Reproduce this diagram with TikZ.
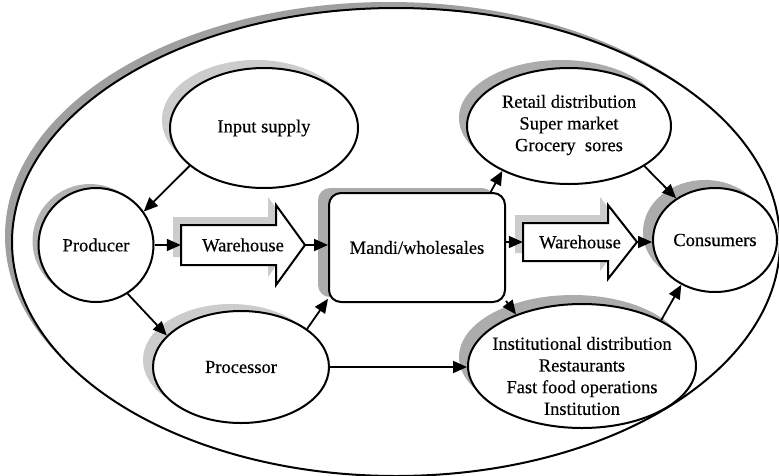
\documentclass[tikz,border=0pt]{standalone}
\usepackage{fontspec}
\setmainfont{Liberation Serif}[FakeBold=0.4]
\usetikzlibrary{arrows.meta,shapes.geometric,shadows,calc}
\begin{document}
\begin{tikzpicture}[x=1pt,y=-1pt,
  shp/.style={draw=black, line width=2pt, fill=white, inner sep=0pt},
  ell/.style={shp, ellipse},
  conn/.style={line width=1.8pt, -{Triangle[length=14pt,width=12pt]}},
  txt/.style={font=\fontsize{18.5}{21.7}\selectfont, align=center, inner sep=0pt},
  lsh/.style={general shadow={fill=gray!40, shadow xshift=-8pt, shadow yshift=8pt}},
  dsh/.style={general shadow={fill=gray!65, shadow xshift=-8pt, shadow yshift=8pt}},
  warrow/.style={draw=black, line width=2pt, fill=white, line join=miter},
  font=\fontsize{18.5}{21.7}\selectfont
]
\useasboundingbox (0,0) rectangle (779,475);
\fill[white] (0,0) rectangle (779,475);

% outer ellipse
\node[ell, minimum width=768pt, minimum height=468pt,
  general shadow={fill=gray!75, shadow xshift=-7pt, shadow yshift=6pt}] (outer) at (396,242) {};

% input supply
\node[ell, lsh, minimum width=188pt, minimum height=120pt] (inp) at (264,128) {Input supply};

% producer
\node[ell, minimum width=115pt, minimum height=114pt,
  general shadow={fill=gray!60, shadow xshift=-6pt, shadow yshift=4pt}] (prod) at (96,245) {Producer};

% processor
\node[ell, minimum width=176pt, minimum height=112pt,
  general shadow={fill=gray!40, shadow xshift=-10pt, shadow yshift=7pt}] (proc) at (241,367) {Processor};

% warehouse 1
\fill[gray!40, shift={(-8,-8)}] (181,225) -- (276,225) -- (276,205) -- (305,245) -- (276,285) -- (276,265) -- (181,265) -- cycle;
\draw[warrow] (181,225) -- (276,225) -- (276,205) -- (305,245) -- (276,285) -- (276,265) -- (181,265) -- cycle;
\node[txt, minimum width=124pt, minimum height=40pt] (wh1) at (243,245) {Warehouse};

% mandi
\node[shp, rounded corners=12pt, minimum width=176pt, minimum height=109pt,
  general shadow={fill=gray!65, shadow xshift=-11pt, shadow yshift=5pt}] (mandi) at (417,247.5) {Mandi/wholesales};

% warehouse 2
\fill[gray!40, shift={(-8,-8)}] (523,223) -- (608,223) -- (608,205) -- (637,242) -- (608,279) -- (608,261) -- (523,261) -- cycle;
\draw[warrow] (523,223) -- (608,223) -- (608,205) -- (637,242) -- (608,279) -- (608,261) -- (523,261) -- cycle;
\node[txt, minimum width=114pt, minimum height=38pt] (wh2) at (580,242) {Warehouse};

% consumers
\node[ell, minimum width=124pt, minimum height=104pt,
  general shadow={fill=gray!65, shadow xshift=-10pt, shadow yshift=8pt}] (cons) at (715,240) {Consumers};

% retail
\node[ell, dsh, minimum width=204pt, minimum height=116pt] (ret) at (569,126) {};
\node[txt] (rett) at (569,125) {Retail distribution\\Super market\\Grocery\ \ sores};

% institutional
\node[ell, general shadow={fill=gray!65, shadow xshift=-9pt, shadow yshift=9pt},
  minimum width=228pt, minimum height=124pt] (inst) at (582,366) {};
\node[txt] (instt) at (582,376) {Institutional distribution\\Restaurants\\Fast food operations\\Institution};

% connectors
\draw[conn] (inp.207) -- (prod.35);
\draw[conn] (prod.-57) -- (proc.157);
\draw[conn] (prod.east) -- (wh1.west);
\draw[conn] (wh1.east) -- (wh1.east -| mandi.west);
\draw[conn] (mandi.east |- wh2.west) -- (wh2.west);
\draw[conn] (wh2.east) -- (wh2.east -| cons.west);
\draw[conn] (proc.east) -- (proc.east -| inst.west);
\draw[conn] (proc.30) -- (mandi.210);
\draw[conn] (mandi.37) -- (ret.214);
\draw[conn] (mandi.-31) -- (inst.142);
\draw[conn] (ret.-28) -- (cons.133);
\draw[conn] (inst.30) -- (cons.233);
\end{tikzpicture}
\end{document}
